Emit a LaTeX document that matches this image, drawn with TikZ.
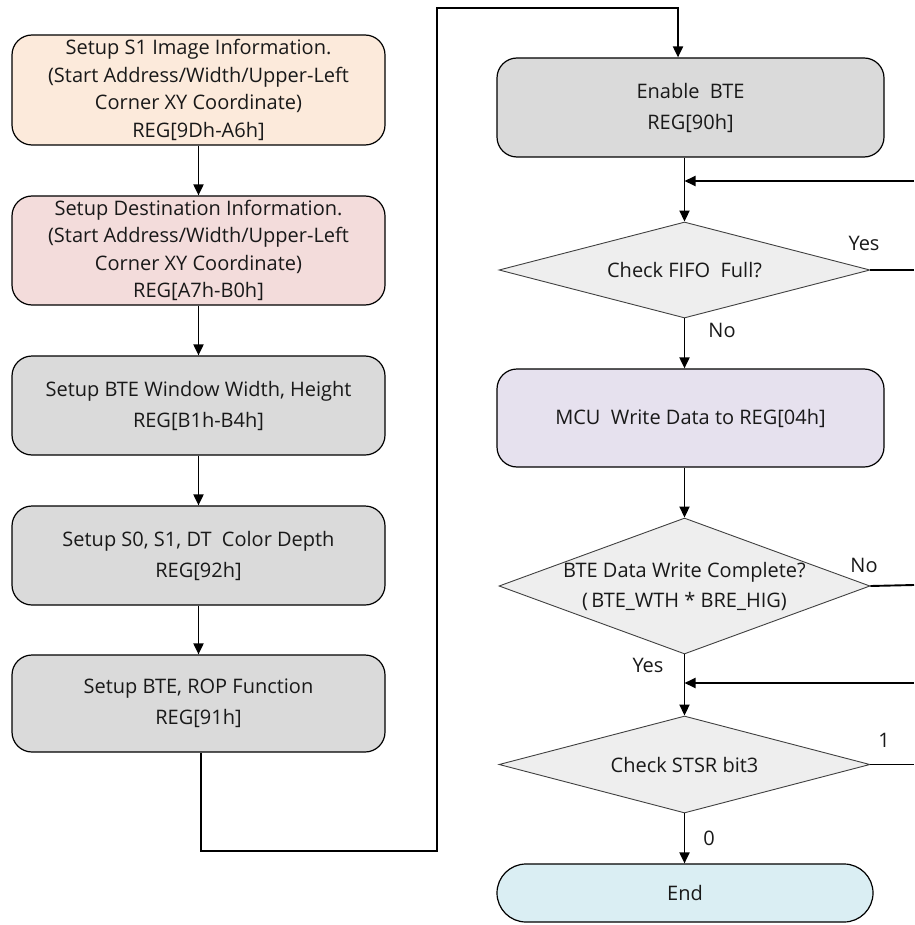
\documentclass[tikz,border=0pt]{standalone}
\usepackage{fontspec}
\setmainfont{Open Sans}
\usetikzlibrary{shapes.geometric,arrows.meta}
\definecolor{cPeach}{HTML}{FCEADB}
\definecolor{cPink}{HTML}{F3DCDB}
\definecolor{cGray}{HTML}{DADADA}
\definecolor{cDia}{HTML}{EEEEEE}
\definecolor{cLav}{HTML}{E6E1EE}
\definecolor{cCyan}{HTML}{DAEEF3}
\tikzset{
  proc/.style={draw=black, line width=1.2pt, rounded corners=20pt, align=center, inner sep=0pt,
    font=\fontsize{20}{27.5}\selectfont, text=black!90},
  dec/.style={draw=black!75, line width=0.9pt, diamond, fill=cDia, inner sep=0pt,
    minimum width=371pt},
  dtext/.style={align=center, font=\fontsize{20}{30}\selectfont, text=black!90, inner sep=0pt},
  conn/.style={line width=1.9pt, -{Triangle[length=11pt,width=10pt]}},
  plain/.style={line width=1.9pt},
  lbl/.style={font=\fontsize{20}{22}\selectfont, text=black!90, inner sep=0pt},
}
\begin{document}
\begin{tikzpicture}[x=1pt,y=-1pt]
\useasboundingbox (0,0) rectangle (914,925);
% left column
\node[proc, fill=cPeach, minimum width=373pt, minimum height=110pt] (b1) at (198.5,90)
  {Setup S1 Image Information.\\(Start Address/Width/Upper-Left\\Corner XY Coordinate)\\REG[9Dh-A6h]};
\node[proc, fill=cPink, minimum width=373pt, minimum height=109pt] (b2) at (198.5,250.5)
  {Setup Destination Information.\\(Start Address/Width/Upper-Left\\Corner XY Coordinate)\\REG[A7h-B0h]};
\node[proc, fill=cGray, minimum width=373pt, minimum height=99pt, font=\fontsize{20}{31}\selectfont] (b3) at (198.5,405.5)
  {Setup BTE Window Width, Height\\REG[B1h-B4h]};
\node[proc, fill=cGray, minimum width=373pt, minimum height=99pt, font=\fontsize{20}{31}\selectfont] (b4) at (198.5,555.5)
  {Setup S0, S1, DT\ \ Color Depth\\REG[92h]};
\node[proc, fill=cGray, minimum width=373pt, minimum height=97pt, font=\fontsize{20}{31}\selectfont] (b5) at (198.5,703.5)
  {Setup BTE, ROP Function\\REG[91h]};
% right column
\node[proc, fill=cGray, minimum width=387pt, minimum height=99pt, font=\fontsize{20}{31}\selectfont] (en) at (690.5,107.5)
  {Enable\ \ BTE\\REG[90h]};
\node[dec, minimum height=96pt] (d1) at (684.5,270) {};
\node[dtext] (t1) at (d1.center) {Check FIFO\ \ Full?};
\node[proc, fill=cLav, minimum width=387pt, minimum height=98pt] (mcu) at (690.5,418)
  {MCU\ \ Write Data to REG[04h]};
\node[dec, minimum height=136pt] (d2) at (684.5,586) {};
\node[dtext] (t2) at (d2.center) {BTE Data Write Complete?\\(\,BTE\_WTH * BRE\_HIG)};
\node[dec, minimum height=97pt] (d3) at (684.5,764.5) {};
\node[dtext] (t3) at (d3.center) {Check STSR bit3};
\node[proc, fill=cCyan, rounded corners=29pt, minimum width=376pt, minimum height=58pt] (end) at (685,893) {End};
% coordinates
\coordinate (p1) at (201,851);
\coordinate (p2) at (437,851);
\coordinate (p3) at (437,8);
\coordinate (p4) at (678,8);
\coordinate (r1) at (914,181);
\coordinate (j1) at (684.5,181);
\coordinate (r2) at (914,270);
\coordinate (r3) at (914,585);
\coordinate (r4) at (914,683);
\coordinate (j2) at (684.5,683);
\coordinate (r5) at (914,764.5);
% left connectors
\draw[conn] (b1.south) -- (b2.north);
\draw[conn] (b2.south) -- (b3.north);
\draw[conn] (b3.south) -- (b4.north);
\draw[conn] (b4.south) -- (b5.north);
\draw[conn] (b5.south -| p1) -- (p1) -- (p2) -- (p3) -- (p4) -- (p4 |- en.north);
% right connectors
\draw[plain] (en.south -| d1.north) -- (j1);
\draw[conn] (j1) -- (d1.north);
\draw[conn] (r1) -- (j1);
\draw[plain] (d1.east) -- (r2);
\draw[conn] (d1.south) -- (d1.south |- mcu.north);
\draw[conn] (mcu.south -| d2.north) -- (d2.north);
\draw[plain] (d2.east) -- (r3);
\draw[plain] (d2.south) -- (j2);
\draw[conn] (j2) -- (d3.north);
\draw[conn] (r4) -- (j2);
\draw[plain] (d3.east) -- (r5);
\draw[conn] (d3.south) -- (d3.south |- end.north);
% labels
\node[lbl] (lyes1) at (864,243) {Yes};
\node[lbl] (lno1) at (722,330) {No};
\node[lbl] (lno2) at (864,565) {No};
\node[lbl] (lyes2) at (648,665) {Yes};
\node[lbl] (lone) at (884,740) {1};
\node[lbl] (lzero) at (709,838) {0};
\end{tikzpicture}
\end{document}
